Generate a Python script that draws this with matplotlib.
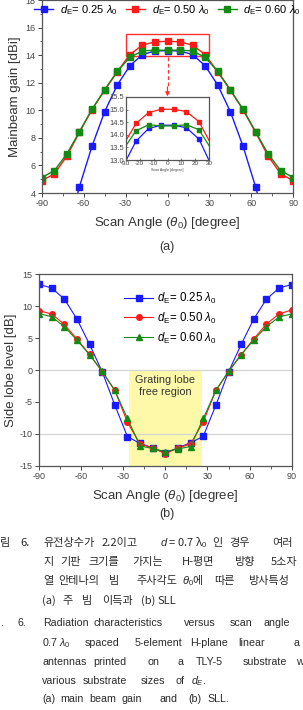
import matplotlib
matplotlib.use("Agg")
import matplotlib.pyplot as plt
from matplotlib.patches import Rectangle

plt.rcParams['font.family'] = ['Liberation Sans', 'DejaVu Sans']
plt.rcParams['mathtext.fontset'] = 'custom'
plt.rcParams['mathtext.rm'] = 'Liberation Sans'
plt.rcParams['mathtext.it'] = 'Liberation Sans:italic'
plt.rcParams['axes.unicode_minus'] = False

# ---- data ----
angle = [-90, -81, -72, -63, -54, -45, -36, -27, -18, -9, 0,
         9, 18, 27, 36, 45, 54, 63, 72, 81, 90]

gain_025 = [-4.0, -2.0, 1.0, 4.46, 7.4, 9.89, 11.82, 13.22, 14.04, 14.3, 14.33,
            14.3, 14.04, 13.22, 11.82, 9.89, 7.4, 4.46, 1.0, -2.0, -4.0]
gain_050 = [4.9, 5.38, 6.68, 8.4, 10.05, 11.45, 12.78, 14.04, 14.72, 14.97, 15.0,
            14.97, 14.72, 14.04, 12.78, 11.45, 10.05, 8.4, 6.68, 5.38, 4.9]
gain_060 = [5.12, 5.62, 6.83, 8.45, 10.08, 11.48, 12.82, 13.83, 14.31, 14.36, 14.36,
            14.36, 14.31, 13.83, 12.82, 11.48, 10.08, 8.45, 6.83, 5.62, 5.12]

inset_angle = [-30, -22.5, -13.5, -4.5, 4.5, 13.5, 22.5, 30]
inset_025 = [12.95, 13.75, 14.25, 14.38, 14.38, 14.28, 13.83, 12.95]
inset_050 = [13.75, 14.45, 14.88, 15.01, 15.01, 14.92, 14.52, 13.75]
inset_060 = [13.55, 14.16, 14.4, 14.35, 14.35, 14.4, 14.2, 13.55]

sll_025 = [13.43, 12.85, 11.13, 8.0, 4.03, -0.26, -5.5, -10.45, -11.5, -12.2, -13.05,
           -12.2, -11.4, -10.4, -5.5, -0.3, 4.0, 8.0, 11.1, 12.85, 13.4]
sll_050 = [9.3, 8.78, 7.16, 4.85, 2.46, -0.26, -3.2, -8.2, -11.6, -12.2, -13.1,
           -12.2, -11.6, -8.1, -3.2, -0.3, 2.4, 4.9, 7.2, 8.8, 9.4]
sll_060 = [8.85, 8.35, 6.8, 4.7, 2.4, -0.2, -3.2, -7.6, -11.9, -12.3, -12.8,
           -12.35, -12.0, -7.6, -3.2, -0.2, 2.4, 4.7, 6.8, 8.3, 8.8]

labels = [r'$d_{\rm E}$= 0.25 $\lambda_0$', r'$d_{\rm E}$= 0.50 $\lambda_0$',
          r'$d_{\rm E}$= 0.60 $\lambda_0$']
colors = ['#1a1aff', '#ff1a1a', '#138a13']

W, H = 303, 710
fig = plt.figure(figsize=(W / 100, H / 100), dpi=100)


def box(l, t, r, b):
    return [l / W, 1 - b / H, (r - l) / W, (b - t) / H]


def style(ax):
    for s in ax.spines.values():
        s.set_color('#555555')
        s.set_linewidth(0.9)
    ax.tick_params(direction='out', length=3, width=0.7, colors='#444444',
                   labelsize=6.5, pad=1.5)
    ax.tick_params(which='minor', direction='out', length=1.8, width=0.6, colors='#444444')


# ---- (a) main beam gain ----
ax1 = fig.add_axes(box(41.7, 0, 293.3, 193))
for y, c, lab in zip([gain_025, gain_050, gain_060], colors, labels):
    ax1.plot(angle, y, '-s', color=c, lw=1.0, ms=4.3, label=lab)
ax1.set_xlim(-90, 90)
ax1.set_ylim(4, 18)
ax1.set_xticks(range(-90, 91, 30))
ax1.set_xticks(range(-75, 90, 30), minor=True)
ax1.set_yticks(range(4, 19, 2))
ax1.set_yticks(range(5, 18, 2), minor=True)
style(ax1)
ax1.set_ylabel('Mainbeam gain [dBi]', fontsize=9.5, color='#333333', labelpad=3)
ax1.set_xlabel(r'Scan Angle ($\theta_0$) [degree]', fontsize=9.5, color='#333333', labelpad=5)
ax1.legend(loc='upper center', ncol=3, frameon=False, fontsize=8.0, handlelength=1.7,
           handletextpad=0.6, columnspacing=0.8, borderaxespad=0.2, borderpad=0.1)

ax1.add_patch(Rectangle((-30, 13.92), 60, 1.59, fill=False, ec='#ff3030', lw=1.0))
ax1.plot([0, 0], [13.9, 11.6], color='#ff3030', lw=0.9, ls=(0, (3, 2)))
ax1.annotate('', xy=(0, 11.0), xytext=(0, 11.7),
             arrowprops=dict(arrowstyle='-|>', color='#ff3030', lw=0.9,
                             mutation_scale=6, shrinkA=0, shrinkB=0))

ins = ax1.inset_axes([-30, 6.39, 60, 4.58], transform=ax1.transData)
for y, c in zip([inset_025, inset_050, inset_060], colors):
    ins.plot(inset_angle, y, '-s', color=c, lw=0.9, ms=3.0, markevery=range(1, 7))
ins.set_xlim(-30, 30)
ins.set_ylim(13.0, 15.5)
ins.set_xticks(range(-30, 31, 10))
ins.set_yticks([13.0, 13.5, 14.0, 14.5, 15.0, 15.5])
ins.set_yticklabels(['13.0', '13.5', '14.0', '14.5', '15.0', '15.5'])
for s in ins.spines.values():
    s.set_color('#555555')
    s.set_linewidth(0.9)
ins.tick_params(direction='in', length=1.5, width=0.5, colors='#444444', labelsize=4.6, pad=1)
ins.tick_params(axis='y', labelsize=5.4)
ins.set_xlabel('Scan Angle [degree]', fontsize=2.6, color='#444444', labelpad=1)
ins.patch.set_facecolor('white')

fig.text(167 / W, 1 - 247 / H, '(a)', ha='center', va='center', fontsize=9, color='#333333')

# ---- (b) side lobe level ----
ax2 = fig.add_axes(box(39, 274.3, 291.7, 465.7))
ax2.axvspan(-25.8, 25.8, ymin=0, ymax=0.5, color='#fdf9a8', lw=0, zorder=0)
ax2.axhline(0, color='#d4d4d4', lw=0.9, zorder=0.5)
ax2.axhline(-10, color='#d4d4d4', lw=0.9, zorder=0.5)
markers = ['s', 'o', '^']
for y, c, m, lab in zip([sll_025, sll_050, sll_060], colors, markers, labels):
    ax2.plot(angle, y, '-', marker=m, color=c, lw=0.8, ms=4.0, label=lab)
ax2.set_xlim(-90, 90)
ax2.set_ylim(-15, 15)
ax2.set_xticks(range(-90, 91, 30))
ax2.set_xticks(range(-75, 90, 30), minor=True)
ax2.set_yticks(range(-15, 16, 5))
style(ax2)
ax2.set_ylabel('Side lobe level [dB]', fontsize=9.5, color='#333333', labelpad=2)
ax2.set_xlabel(r'Scan Angle ($\theta_0$) [degree]', fontsize=9.5, color='#333333', labelpad=5)
ax2.text(0, -2.5, 'Grating lobe\nfree region', ha='center', va='center', fontsize=7.8,
         color='#333333', linespacing=1.25)
ax2.legend(loc='upper left', bbox_to_anchor=(0.315, 0.945), frameon=False, fontsize=8.3,
           handlelength=2.5, handletextpad=0.35, labelspacing=0.42, borderpad=0)

fig.text(167 / W, 1 - 514 / H, '(b)', ha='center', va='center', fontsize=9, color='#333333')

# ---- caption ----
kr = ['Noto Sans CJK KR', 'DejaVu Sans']
caption = [
    (543, kr, [(0, '림'), (20, '6.'), (43, '유전상수가'), (102, '2.2이고'),
               (160, r'$d$ = 0.7 λ$_0$'), (212, '인'), (229, '경우'), (272, '여러')]),
    (562, kr, [(43, '지'), (60, '기판'), (88, '크기를'), (132, '가지는'), (182, 'H-평면'),
               (234, '방향'), (271, '5소자')]),
    (581, kr, [(43, '열'), (58, '안테나의'), (109, '빔'), (136, '주사각도'),
               (182, r'$\theta_0$에'), (214, '따른'), (248, '방사특성')]),
    (601, kr, [(42, '(a)'), (62, '주'), (82, '빔'), (102, '이득과'), (141, '(b)'),
               (157, 'SLL')]),
    (623, None, [(1, '.'), (18, '6.'), (43, 'Radiation'), (93, 'characteristics'),
                 (184, 'versus'), (230, 'scan'), (264, 'angle')]),
    (643, None, [(42, r'0.7 $\lambda_0$'), (85, 'spaced'), (135, '5-element'),
                 (190, 'H-plane'), (238, 'linear'), (294, 'a')]),
    (662, None, [(42, 'antennas'), (93, 'printed'), (148, 'on'), (177, 'a'),
                 (196, 'TLY-5'), (243, 'substrate'), (296, 'w')]),
    (681, None, [(42, 'various'), (83, 'substrate'), (141, 'sizes'), (175, 'of'),
                 (191, r'$d_E$.')]),
    (699, None, [(42, '(a)'), (60, 'main'), (89, 'beam'), (122, 'gain'), (160, 'and'),
                 (188, '(b)'), (207, 'SLL.')]),
]
for y, fam, words in caption:
    for x, w in words:
        if fam:
            kw = dict(fontsize=8.0, family=fam)
        else:
            kw = dict(fontsize=7.7)
        fig.text(x / W, 1 - y / H, w, ha='left', va='center', color='#2a2a2a', **kw)

fig.savefig('out.png', dpi=100)
